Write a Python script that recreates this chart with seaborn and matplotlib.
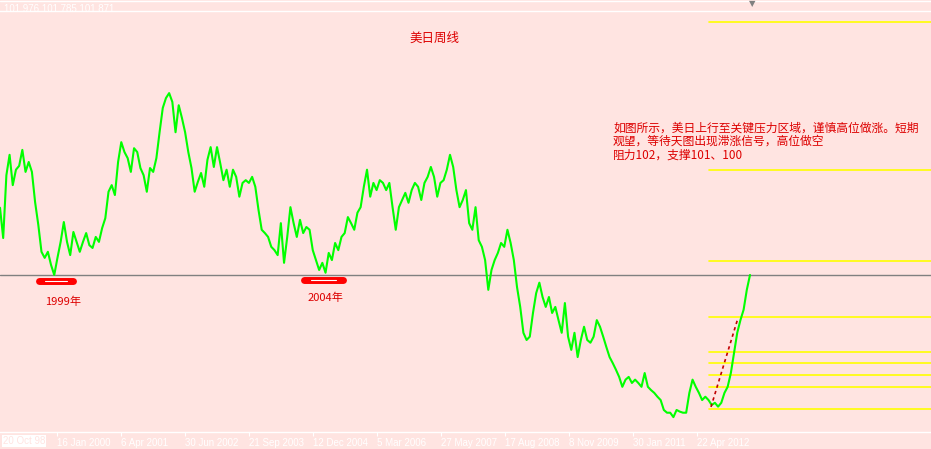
import matplotlib
matplotlib.use('Agg')

import matplotlib.pyplot as plt
from matplotlib.lines import Line2D
import seaborn as sns
import pandas as pd

closes = [
    114.1, 108.6, 120.0, 123.7, 118.2, 121.0, 121.7, 124.6, 120.6, 122.4,
    120.6, 115.1, 111.0, 106.1, 105.0, 106.1, 103.7, 101.9, 105.0, 107.9,
    111.5, 107.9, 105.5, 109.7, 107.9, 106.1, 107.9, 109.5, 107.3, 106.8,
    108.8, 107.9, 110.4, 112.2, 117.0, 118.2, 116.4, 122.4, 126.0, 124.2,
    123.1, 120.6, 124.9, 124.2, 121.3, 120.0, 117.0, 121.3, 120.6, 123.1,
    127.8, 132.2, 134.0, 134.9, 133.3, 127.8, 132.7, 130.4, 127.8, 124.2,
    121.3, 117.0, 118.8,
    120.4, 117.9, 122.8, 125.1, 121.5, 125.1, 122.2, 119.1, 121.0, 117.9,
    121.0, 119.7, 116.1, 118.6, 119.1, 118.6, 119.7, 117.9, 113.7, 110.1,
    109.5, 108.8, 107.0, 106.4, 105.5, 111.3, 104.1, 108.8, 114.2, 111.3,
    108.8, 111.9, 109.5, 110.6, 110.1, 106.4, 104.6, 102.8, 104.1, 102.3,
    105.9, 104.6, 107.7, 106.4, 108.8, 109.5, 112.4, 111.3, 110.1, 113.2,
    114.2, 117.9, 121.0, 116.1, 118.6, 117.3, 119.1,
    118.6, 117.3, 118.6, 114.2, 110.1, 114.2, 115.5, 116.8, 115.0, 117.3,
    118.6, 117.9, 115.5, 118.6, 119.7, 121.5, 119.7, 116.1, 118.6, 119.1,
    121.0, 123.7, 121.5, 117.3, 114.2, 115.5, 117.3, 111.3, 110.1, 114.2,
    108.2, 107.0, 104.6, 99.2, 102.8, 104.6, 105.9, 107.7, 107.0, 110.1,
    107.7, 104.6, 99.7, 96.1, 91.4, 90.1, 90.7, 95.0, 98.6, 100.5,
    97.9, 96.1, 97.9, 95.0, 96.1, 93.7, 91.4,
    96.8, 90.7, 88.3, 91.4, 87.0, 90.1, 92.5, 90.1, 89.6, 90.7,
    93.7, 92.5, 90.7, 88.8, 87.0, 85.9, 84.7, 83.4, 81.6, 82.9,
    83.4, 82.3, 82.9, 82.3, 81.6, 84.1, 81.6, 81.0, 80.5, 79.8,
    79.2, 77.4, 76.9, 76.9, 76.1, 77.4, 77.1, 76.9, 76.9, 80.5,
    82.9, 81.6, 80.5, 79.2, 79.8, 79.2, 78.3, 78.7, 78.0, 78.7,
    80.5, 81.6, 84.1, 87.8, 91.4, 93.7, 95.6, 99.2, 101.9,
]
first_date = '1998-12-13'
last_date = '2013-04-28'
view_end = '2016-10-16'
price_low, price_high = 73.4, 149.8

last_price = 101.9
header = '101.976 101.785 101.871'

fib_from = '2012-07-15'
fib_levels = [147.8, 121.0, 104.4, 94.3, 87.9, 85.9, 83.8, 81.6, 77.6]

trend_dates = ['2012-07-29', '2013-02-03']
trend_prices = [77.95, 94.1]

lows_1999 = ['1999-09-12', '2000-05-07']
lows_2004 = ['2004-10-10', '2005-07-10']
lows_price = [100.8, 101.0]

tick_dates = ['2000-01-16', '2001-04-06', '2002-06-30', '2003-09-21', '2004-12-12',
              '2006-03-05', '2007-05-27', '2008-08-17', '2009-11-08', '2011-01-30',
              '2012-04-22']
tick_labels = ['16 Jan 2000', '6 Apr 2001', '30 Jun 2002', '21 Sep 2003', '12 Dec 2004',
               '5 Mar 2006', '27 May 2007', '17 Aug 2008', '8 Nov 2009', '30 Jan 2011',
               '22 Apr 2012']

title = '美日周线'
note_lines = ['如图所示，美日上行至关键压力区域，谨慎高位做涨。短期',
              '观望，等待天图出现滞涨信号，高位做空',
              '阻力102，支撑101、100']

bg = '#FFE4E1'
red = '#DD0000'
sns.set_theme(style='white', rc={'axes.facecolor': bg, 'figure.facecolor': bg})
plt.rcParams['font.family'] = ['Noto Sans CJK SC', 'DejaVu Sans']

W, H = 931, 449
fig = plt.figure(figsize=(W / 100, H / 100), dpi=100)
ax = fig.add_axes([0, (H - 432) / H, 1, 421 / H])


def fx(x):
    return x / W


def fy(y):
    return 1 - y / H


df = pd.DataFrame({'date': pd.date_range(first_date, last_date, periods=len(closes)),
                   'close': closes})

ax.axhline(last_price, color='#808080', lw=1, zorder=1)
for lvl in fib_levels:
    ax.plot(pd.to_datetime([fib_from, view_end]), [lvl, lvl], color='#FFFF00', lw=1.2, zorder=1)

sns.lineplot(data=df, x='date', y='close', color='#00FF00', lw=1.5, ax=ax, zorder=3)

ax.plot(pd.to_datetime(trend_dates), trend_prices, color='#C00000', lw=1.2,
        dashes=(2, 2), zorder=4)

for span, p in zip([lows_1999, lows_2004], lows_price):
    d = pd.to_datetime(span)
    ax.plot(d, [p, p], color='#FF0000', lw=5, solid_capstyle='round', zorder=4)
    inner = [d[0] + (d[1] - d[0]) * 0.18, d[0] + (d[1] - d[0]) * 0.82]
    ax.plot(inner, [p, p], color='white', lw=0.8, zorder=5)

ax.set_xlim(pd.to_datetime(first_date), pd.to_datetime(view_end))
ax.set_ylim(price_low, price_high)
ax.set_xlabel('')
ax.set_ylabel('')
ax.set_yticks([])
ax.set_xticks(pd.to_datetime(tick_dates))
ax.set_xticklabels(tick_labels, ha='left', color='white', fontsize=7,
                   family='Liberation Sans')
ax.tick_params(axis='x', direction='out', length=3, width=0.8, color='white', pad=1.5,
               bottom=True)
for side in ['left', 'right']:
    ax.spines[side].set_visible(False)
for side in ['top', 'bottom']:
    ax.spines[side].set_color('white')
    ax.spines[side].set_linewidth(1)

fig.add_artist(Line2D([0, 1], [fy(1), fy(1)], color='white', lw=1))
fig.text(fx(4), fy(9), header, color='white', fontsize=7, va='center',
         family='Liberation Sans')
fig.text(fx(752), fy(4), '▼', color='#808080', fontsize=6, ha='center', va='center',
         family='DejaVu Sans')
fig.text(fx(3), fy(441), '20 Oct 98', color=bg, fontsize=7, va='center',
         family='Liberation Sans', bbox=dict(facecolor='white', edgecolor='none', pad=0.5))

fig.text(fx(434), fy(38), title, color=red, fontsize=9, ha='center', va='center')
for i, line in enumerate(note_lines):
    fig.text(fx(613), fy(128 + 13.5 * i), line, color=red, fontsize=8.5, va='center')
fig.text(fx(63), fy(302), '1999年', color=red, fontsize=8, ha='center', va='center')
fig.text(fx(325), fy(298), '2004年', color=red, fontsize=8, ha='center', va='center')

fig.savefig('out.png', dpi=100, facecolor=bg)
